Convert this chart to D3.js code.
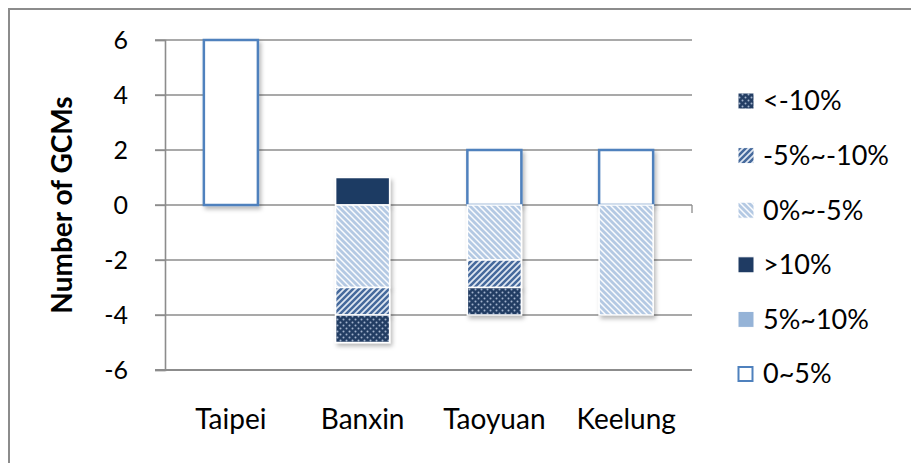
<!DOCTYPE html>
<html>
<head>
<meta charset="utf-8">
<script src="https://cdn.jsdelivr.net/npm/d3@7/dist/d3.min.js"></script>
<style>
  html, body { margin: 0; padding: 0; background: #fff; }
  svg { display: block; font-family: Lato, "Open Sans", sans-serif; }
</style>
</head>
<body>
<svg id="chart" width="911" height="463"></svg>
<script>
// Stations and the number of GCMs falling in each change class
const categories = ["Taipei", "Banxin", "Taoyuan", "Keelung"];
const seriesKeys = ["0~5%", "5%~10%", ">10%", "0%~-5%", "-5%~-10%", "<-10%"];
const legendOrder = ["<-10%", "-5%~-10%", "0%~-5%", ">10%", "5%~10%", "0~5%"];
const pos0to5   = [6, 0, 2, 2];
const pos5to10  = [0, 0, 0, 0];
const posGt10   = [0, 1, 0, 0];
const neg0to5   = [0, -3, -2, -4];
const neg5to10  = [0, -1, -1, 0];
const negLt10   = [0, -1, -1, 0];
const yTicks = [-6, -4, -2, 0, 2, 4, 6];

const seriesValues = {
  "0~5%": pos0to5, "5%~10%": pos5to10, ">10%": posGt10,
  "0%~-5%": neg0to5, "-5%~-10%": neg5to10, "<-10%": negLt10
};
const rows = categories.map((c, i) => {
  const r = { category: c };
  seriesKeys.forEach(k => r[k] = seriesValues[k][i]);
  return r;
});

const svg = d3.select("#chart");
const plot = { left: 165, right: 692, top: 40, bottom: 370 };

const x = d3.scaleBand().domain(categories).range([plot.left, plot.right]).paddingInner(0.59).paddingOuter(0.295);
const y = d3.scaleLinear().domain([-6, 6]).range([plot.bottom, plot.top]);

// fills / patterns
const defs = svg.append("defs");
const light = defs.append("pattern").attr("id", "p-light").attr("patternUnits", "userSpaceOnUse")
  .attr("width", 6).attr("height", 6);
light.append("rect").attr("width", 6).attr("height", 6).attr("fill", "#fbfcfe");
light.append("path").attr("d", "M-1,-1 L7,7 M-4,2 L1,7 M2,-4 L7,1")
  .attr("stroke", "#b4c9e3").attr("stroke-width", 2.8);

const mid = defs.append("pattern").attr("id", "p-mid").attr("patternUnits", "userSpaceOnUse")
  .attr("width", 6).attr("height", 6);
mid.append("rect").attr("width", 6).attr("height", 6).attr("fill", "#dfe7f2");
mid.append("path").attr("d", "M-1,7 L7,-1 M-4,4 L4,-4 M2,10 L10,2")
  .attr("stroke", "#45699c").attr("stroke-width", 2.5);

const dots = defs.append("pattern").attr("id", "p-dots").attr("patternUnits", "userSpaceOnUse")
  .attr("width", 6).attr("height", 6);
dots.append("rect").attr("width", 6).attr("height", 6).attr("fill", "#243e64");
dots.append("circle").attr("cx", 1.5).attr("cy", 1.5).attr("r", 1).attr("fill", "#a3b4cd");
dots.append("circle").attr("cx", 4.5).attr("cy", 4.5).attr("r", 1).attr("fill", "#a3b4cd");

const shadow = defs.append("filter").attr("id", "shadow").attr("x", "-20%").attr("y", "-20%")
  .attr("width", "150%").attr("height", "150%");
shadow.append("feDropShadow").attr("dx", 2).attr("dy", 3).attr("stdDeviation", 2)
  .attr("flood-color", "#000").attr("flood-opacity", 0.28);

const styles = {
  "0~5%":     { fill: "#ffffff", stroke: "#4f81bd", sw: 2.5 },
  "5%~10%":   { fill: "#95b3d7", stroke: "#ffffff", sw: 1.5 },
  ">10%":     { fill: "#1f3b63", stroke: "#ffffff", sw: 1.5 },
  "0%~-5%":   { fill: "url(#p-light)", stroke: "#ffffff", sw: 1.5 },
  "-5%~-10%": { fill: "url(#p-mid)", stroke: "#ffffff", sw: 1.5 },
  "<-10%":    { fill: "url(#p-dots)", stroke: "#ffffff", sw: 1.5 }
};

// chart frame (top and left edges)
svg.append("path").attr("d", "M9,463 L9,9 L911,9").attr("fill", "none")
  .attr("stroke", "#8c8c8c").attr("stroke-width", 2);

// gridlines
svg.append("g").selectAll("line").data(yTicks.filter(t => t !== -6)).join("line")
  .attr("x1", plot.left - 10).attr("x2", plot.right)
  .attr("y1", d => y(d)).attr("y2", d => y(d))
  .attr("stroke", "#8c8c8c").attr("stroke-width", 1.3);

// y axis
const yAxis = svg.append("g").attr("transform", `translate(${plot.left},0)`)
  .call(d3.axisLeft(y).tickValues(yTicks).tickSize(10).tickPadding(27).tickFormat(d3.format("d")));
yAxis.select(".domain").attr("stroke", "#8c8c8c").attr("stroke-width", 1.6);
yAxis.selectAll(".tick line").attr("stroke", "#8c8c8c").attr("stroke-width", 1.3);
yAxis.selectAll(".tick text").attr("font-size", 25).attr("fill", "#000")
  .attr("font-family", "Lato, sans-serif").text(d => d < 0 ? "-" + Math.abs(d) : d);

// x axis at the bottom
const xAxis = svg.append("g").attr("transform", `translate(0,${plot.bottom})`)
  .call(d3.axisBottom(x).tickSize(0).tickPadding(39));
xAxis.select(".domain").attr("stroke", "#8c8c8c").attr("stroke-width", 2)
  .attr("d", `M${plot.left - 10},0H${plot.right}`);
xAxis.selectAll(".tick text").attr("font-size", 28).attr("fill", "#000")
  .attr("font-family", "Lato, sans-serif");

// small category tick at the zero line on the right
svg.append("line").attr("x1", plot.right).attr("x2", plot.right)
  .attr("y1", y(0)).attr("y2", y(0) + 8).attr("stroke", "#8c8c8c").attr("stroke-width", 1.3);

// stacked bars
const stacked = d3.stack().keys(seriesKeys).offset(d3.stackOffsetDiverging)(rows);
const bars = svg.append("g");
stacked.forEach(s => {
  const st = styles[s.key];
  bars.append("g").attr("filter", "url(#shadow)")
    .selectAll("rect").data(s.filter(d => d[1] !== d[0])).join("rect")
    .attr("x", d => x(d.data.category))
    .attr("width", x.bandwidth())
    .attr("y", d => y(Math.max(d[0], d[1])))
    .attr("height", d => Math.abs(y(d[0]) - y(d[1])))
    .attr("fill", st.fill).attr("stroke", st.stroke).attr("stroke-width", st.sw);
});

// y axis title
svg.append("text")
  .attr("transform", "translate(72,205) rotate(-90)")
  .attr("text-anchor", "middle")
  .attr("font-size", 28).attr("font-weight", "bold").attr("fill", "#000")
  .text("Number of GCMs");

// legend
const legend = svg.append("g");
legendOrder.forEach((k, i) => {
  const cy = 101 + i * 54.6;
  const st = styles[k];
  const g = legend.append("g");
  if (k === "0~5%") {
    g.append("rect").attr("x", 738.5).attr("y", cy - 7).attr("width", 14).attr("height", 14)
      .attr("fill", "#fff").attr("stroke", "#4f81bd").attr("stroke-width", 2);
  } else {
    g.append("rect").attr("x", 738).attr("y", cy - 8).attr("width", 16).attr("height", 16)
      .attr("fill", st.fill).attr("stroke", "#fff").attr("stroke-width", 1);
  }
  g.append("text").attr("x", 763).attr("y", cy).attr("dy", "0.35em")
    .attr("font-size", 27).attr("fill", "#000").text(k);
});
</script>
</body>
</html>
